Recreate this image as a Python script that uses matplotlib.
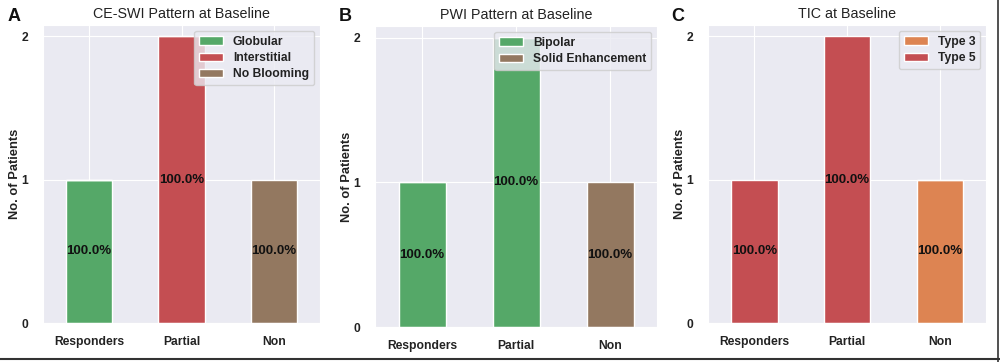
import matplotlib
matplotlib.use("Agg")
import matplotlib.pyplot as plt
import numpy as np
import seaborn as sns
from matplotlib.lines import Line2D

sns.set_style("darkgrid")
plt.rcParams['font.family'] = ['Liberation Sans', 'DejaVu Sans']

categories = ["Responders", "Partial", "Non"]

# Panel A: CE-SWI
a_labels = ["Globular", "Interstitial", "No Blooming"]
a_globular = [1, 0, 0]
a_interstitial = [0, 2, 0]
a_noblooming = [0, 0, 1]

# Panel B: PWI
b_labels = ["Bipolar", "Solid Enhancement"]
b_bipolar = [1, 2, 0]
b_solid = [0, 0, 1]

# Panel C: TIC
c_labels = ["Type 3", "Type 5"]
c_type3 = [0, 0, 1]
c_type5 = [1, 2, 0]

GREEN = "#55a868"
RED = "#c44e52"
BROWN = "#937860"
ORANGE = "#dd8452"

W, H = 1000, 362
fig = plt.figure(figsize=(W / 100, H / 100), dpi=100)
fig.patch.set_facecolor("white")


def px_axes(left, right, top, bottom):
    return fig.add_axes([left / W, 1 - bottom / H, (right - left) / W, (bottom - top) / H])


def panel(ax, series, labels, colors, title, letter, letter_x, ylab_x):
    x = np.arange(len(categories))
    bottom = np.zeros(len(categories))
    for vals, lab, col in zip(series, labels, colors):
        vals = np.array(vals, dtype=float)
        ax.bar(x, vals, 0.5, bottom=bottom, color=col, label=lab, zorder=2)
        for xi, v, b in zip(x, vals, bottom):
            if v > 0:
                ax.text(xi, b + v / 2, "100.0%", ha="center", va="center",
                        fontsize=9.5, fontweight="bold", color="#111111", zorder=3)
        bottom += vals
    ax.set_xlim(-0.5, 2.5)
    ax.set_ylim(0, 2.08)
    ax.set_yticks([0, 1, 2])
    ax.set_xticks(x)
    ax.set_xticklabels(categories, fontsize=8.7, fontweight="bold", color="#222222")
    for t in ax.get_yticklabels():
        t.set_fontsize(8.7)
        t.set_fontweight("bold")
        t.set_color("#222222")
    ax.tick_params(axis="x", pad=6)
    ax.tick_params(axis="y", pad=7)
    ax.set_ylabel("No. of Patients", fontsize=9.3, fontweight="bold", color="#222222")
    ax.yaxis.set_label_coords(ylab_x, 0.5)
    ax.set_title(title, fontsize=10.3, color="#222222", pad=5)
    leg = ax.legend(loc="upper right", frameon=True,
                    prop={"weight": "bold", "size": 8.7}, borderpad=0.4,
                    labelspacing=0.35, handlelength=2.0)
    for t in leg.get_texts():
        t.set_color("#222222")
    fig.text(letter_x / W, 1 - 16.5 / H, letter, fontsize=13, fontweight="bold",
             ha="center", va="center", color="#111111")


axA = px_axes(43, 320, 25, 323)
panel(axA, [a_globular, a_interstitial, a_noblooming], a_labels,
      [GREEN, RED, BROWN], "CE-SWI Pattern at Baseline", "A", 14, -0.078)

axB = px_axes(375, 657, 26, 327)
panel(axB, [b_bipolar, b_solid], b_labels, [GREEN, BROWN],
      "PWI Pattern at Baseline", "B", 345, -0.077)

axC = px_axes(708, 986, 25, 323)
panel(axC, [c_type3, c_type5], c_labels, [ORANGE, RED],
      "TIC at Baseline", "C", 678, -0.078)

# frame lines of the composite figure
fig.add_artist(Line2D([0, 1], [1 - 358.5 / H, 1 - 358.5 / H], color="#333333", lw=1.5,
                      transform=fig.transFigure))
fig.add_artist(Line2D([998 / W, 998 / W], [0, 1], color="#333333", lw=1.2,
                      transform=fig.transFigure))

fig.savefig("out.png", dpi=100, facecolor="white")
